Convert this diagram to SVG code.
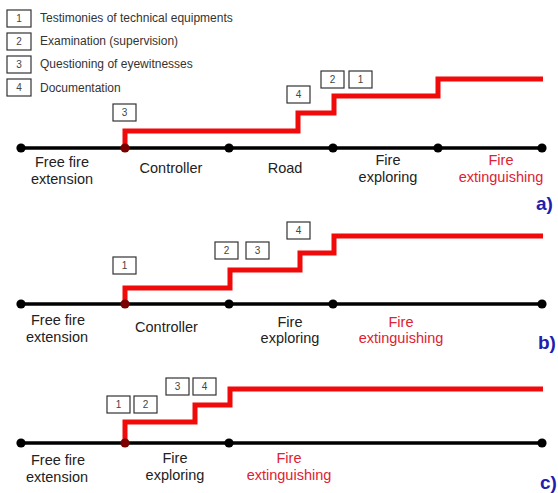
<svg xmlns="http://www.w3.org/2000/svg" width="558" height="493" viewBox="0 0 558 493">
<style>
  .bg { fill: #ffffff; }
  .box rect { fill: #ffffff; stroke: #333333; stroke-width: 1.2; }
  .box text { font-family: "Liberation Sans", Arial, sans-serif; font-size: 10px; fill: #444444; text-anchor: middle; }
  .legend { font-family: "Liberation Sans", Arial, sans-serif; font-size: 12px; fill: #333333; }
  .lbl { font-family: "Liberation Sans", Arial, sans-serif; font-size: 14.5px; fill: #222222; text-anchor: middle; }
  .red { fill: #dd2233; }
  .tag { font-family: "Liberation Sans", Arial, sans-serif; font-size: 19px; font-weight: bold; fill: #1f20ae; }
  .axis { stroke: #000000; stroke-width: 3.4; fill: none; }
  .step { stroke: #f00a0a; stroke-width: 5; fill: none; stroke-linejoin: miter; stroke-linecap: butt; }
  .dot { fill: #000000; }
</style>
<rect class="bg" x="0" y="0" width="558" height="493"/>

<!-- Legend -->
<g id="legend">
  <g id="legend-1" class="box"><rect x="7" y="10" width="24" height="17"/><text x="19" y="22">1</text></g>
  <text class="legend" x="40" y="22">Testimonies of technical equipments</text>
  <g id="legend-2" class="box"><rect x="7" y="33" width="24" height="17"/><text x="19" y="45">2</text></g>
  <text class="legend" x="40" y="45">Examination (supervision)</text>
  <g id="legend-3" class="box"><rect x="7" y="56" width="24" height="17"/><text x="19" y="68">3</text></g>
  <text class="legend" x="40" y="68">Questioning of eyewitnesses</text>
  <g id="legend-4" class="box"><rect x="7" y="79" width="24" height="17"/><text x="19" y="91">4</text></g>
  <text class="legend" x="40" y="91.5">Documentation</text>
</g>

<!-- Connectors -->
<g id="connectors">
  <path class="axis" d="M21,148 H542"/>
  <path class="axis" d="M21,304 H542"/>
  <path class="axis" d="M21,443 H542"/>
  <path class="step" d="M125,148 V131 H298 V113 H334 V96 H438 V79 H543"/>
  <path class="step" d="M125,304 V288 H230 V270 H300 V253 H334 V236 H543"/>
  <path class="step" d="M125,443 V422 H195 V405 H230 V389 H543"/>
</g>

<!-- Panel a -->
<g id="panel-a">
  <g id="a-dots">
    <circle class="dot" cx="21" cy="148" r="4.6"/>
    <circle class="dot" cx="229" cy="148" r="4.6"/>
    <circle class="dot" cx="333" cy="148" r="4.6"/>
    <circle class="dot" cx="438" cy="148" r="4.6"/>
    <circle class="dot" cx="542" cy="148" r="4.6"/>
    <circle cx="125" cy="148" r="4.6" fill="#7a0000"/>
  </g>
  <g id="a-box3" class="box"><rect x="113" y="104" width="23" height="17"/><text x="124.5" y="116">3</text></g>
  <g id="a-box4" class="box"><rect x="287" y="86" width="23" height="17"/><text x="298.5" y="98">4</text></g>
  <g id="a-box2" class="box"><rect x="321" y="71" width="23" height="17"/><text x="332.5" y="83">2</text></g>
  <g id="a-box1" class="box"><rect x="349" y="71" width="23" height="17"/><text x="360.5" y="83">1</text></g>
  <g id="a-free"><text class="lbl" x="62" y="167">Free fire</text><text class="lbl" x="62" y="184">extension</text></g>
  <g id="a-controller"><text class="lbl" x="171" y="173">Controller</text></g>
  <g id="a-road"><text class="lbl" x="285" y="173">Road</text></g>
  <g id="a-exploring"><text class="lbl" x="388" y="165">Fire</text><text class="lbl" x="388" y="182">exploring</text></g>
  <g id="a-extinguishing"><text class="lbl red" x="501" y="165">Fire</text><text class="lbl red" x="501" y="182">extinguishing</text></g>
  <text class="tag" x="536" y="210">a)</text>
</g>

<!-- Panel b -->
<g id="panel-b">
  <g id="b-dots">
    <circle class="dot" cx="21" cy="304" r="4.6"/>
    <circle class="dot" cx="229" cy="304" r="4.6"/>
    <circle class="dot" cx="333" cy="304" r="4.6"/>
    <circle class="dot" cx="542" cy="304" r="4.6"/>
    <circle cx="125" cy="304" r="4.6" fill="#7a0000"/>
  </g>
  <g id="b-box1" class="box"><rect x="113" y="257" width="23" height="17"/><text x="124.5" y="269">1</text></g>
  <g id="b-box2" class="box"><rect x="215" y="242" width="23" height="17"/><text x="226.5" y="254">2</text></g>
  <g id="b-box3" class="box"><rect x="246" y="242" width="23" height="17"/><text x="257.5" y="254">3</text></g>
  <g id="b-box4" class="box"><rect x="287" y="222" width="23" height="17"/><text x="298.5" y="234">4</text></g>
  <g id="b-free"><text class="lbl" x="58" y="325">Free fire</text><text class="lbl" x="57" y="342">extension</text></g>
  <g id="b-controller"><text class="lbl" x="166.5" y="332">Controller</text></g>
  <g id="b-exploring"><text class="lbl" x="290" y="327">Fire</text><text class="lbl" x="290" y="343">exploring</text></g>
  <g id="b-extinguishing"><text class="lbl red" x="401" y="327">Fire</text><text class="lbl red" x="401" y="343">extinguishing</text></g>
  <text class="tag" x="538" y="349">b)</text>
</g>

<!-- Panel c -->
<g id="panel-c">
  <g id="c-dots">
    <circle class="dot" cx="21" cy="443" r="4.6"/>
    <circle class="dot" cx="229" cy="443" r="4.6"/>
    <circle class="dot" cx="542" cy="443" r="4.6"/>
    <circle cx="125" cy="443" r="4.6" fill="#7a0000"/>
  </g>
  <g id="c-box1" class="box"><rect x="107" y="396" width="23" height="17"/><text x="118.5" y="408">1</text></g>
  <g id="c-box2" class="box"><rect x="134" y="396" width="23" height="17"/><text x="145.5" y="408">2</text></g>
  <g id="c-box3" class="box"><rect x="166" y="378" width="23" height="17"/><text x="177.5" y="390">3</text></g>
  <g id="c-box4" class="box"><rect x="193" y="378" width="23" height="17"/><text x="204.5" y="390">4</text></g>
  <g id="c-free"><text class="lbl" x="58" y="465">Free fire</text><text class="lbl" x="57" y="482">extension</text></g>
  <g id="c-exploring"><text class="lbl" x="175" y="463">Fire</text><text class="lbl" x="175" y="480">exploring</text></g>
  <g id="c-extinguishing"><text class="lbl red" x="289" y="463">Fire</text><text class="lbl red" x="289" y="480">extinguishing</text></g>
  <text class="tag" x="540" y="489">c)</text>
</g>
</svg>
